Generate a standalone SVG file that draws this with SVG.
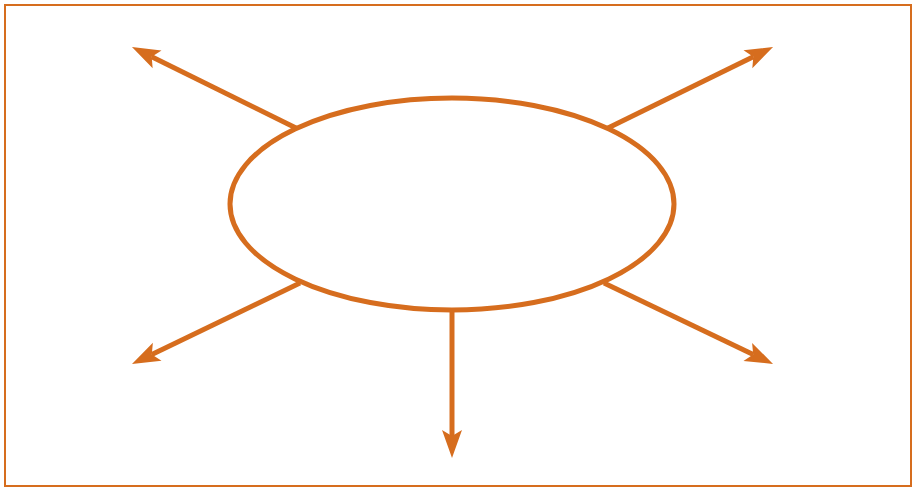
<svg xmlns="http://www.w3.org/2000/svg" width="912" height="487" viewBox="0 0 912 487">
<defs>
<style>
.c{stroke:#D66D1E;stroke-width:5;fill:none}
</style>
<marker id="ah" markerUnits="userSpaceOnUse" markerWidth="40" markerHeight="30" viewBox="-30 -15 32 30" refX="-22" refY="0" orient="auto">
<path d="M0,0 L-28,-10 L-22,0 L-28,10 Z" fill="#D66D1E"/>
</marker>
</defs>
<rect x="5" y="5" width="906" height="481" fill="#fff" stroke="#D66D1E" stroke-width="2"/>
<g id="center">
<ellipse cx="452" cy="204" rx="222" ry="106" class="c"/>
</g>
<g id="connectors">
<line x1="296" y1="128" x2="151.7" y2="56.7" class="c" marker-end="url(#ah)"/>
<line x1="608" y1="128" x2="753.3" y2="56.7" class="c" marker-end="url(#ah)"/>
<line x1="300" y1="283" x2="151.8" y2="354.4" class="c" marker-end="url(#ah)"/>
<line x1="604" y1="283" x2="753.2" y2="354.5" class="c" marker-end="url(#ah)"/>
<line x1="452" y1="311" x2="452" y2="436" class="c" marker-end="url(#ah)"/>
</g>
</svg>
